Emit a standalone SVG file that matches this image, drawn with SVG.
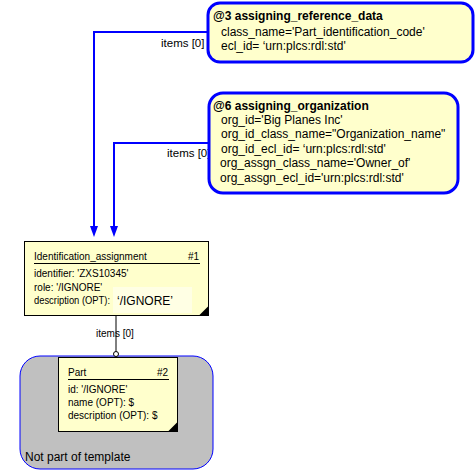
<svg xmlns="http://www.w3.org/2000/svg" width="475" height="471" viewBox="0 0 475 471">
<style>
.t{font-family:"Liberation Sans",Arial,sans-serif;fill:#000}
.tb{font-family:"Liberation Sans",Arial,sans-serif;font-weight:bold;font-size:12px;fill:#000}
.tl{font-size:12px}
.ts{font-size:10px}
.tpl{fill:#FFFFCC;stroke:#0000FF;stroke-width:3}
.ent{fill:#FFFFCC;stroke:#000;stroke-width:1}
.con{fill:none;stroke:#0000FF;stroke-width:2}
.arr{fill:#0000FF}
</style>
<rect width="475" height="471" fill="#fff"/>

<g id="group-not-part">
<rect x="20" y="356" width="193" height="113" rx="20" ry="20" fill="#C0C0C0" stroke="#0000FF" stroke-width="1"/>
<text class="t tl" x="25" y="461">Not part of template</text>
</g>

<g id="connectors">
<polyline class="con" points="208,32 94,32 94,226"/>
<path class="arr" d="M90,226 L98,226 L94,237 Z"/>
<polyline class="con" points="210,143 114,143 114,226"/>
<path class="arr" d="M110,226 L118,226 L114,237 Z"/>
<line x1="116" y1="316" x2="116" y2="352" stroke="#000" stroke-width="1"/>
<circle cx="116" cy="354" r="2.5" fill="#fff" stroke="#000" stroke-width="1"/>
<text class="t" font-size="11.5" x="161" y="47">items [0]</text>
<text class="t" font-size="11.5" x="167" y="157">items [0]</text>
<text class="t ts" x="96" y="337">items [0]</text>
</g>

<g id="node-3">
<rect class="tpl" x="208" y="3" width="265" height="59" rx="12" ry="12"/>
<text class="tb" x="213" y="20">@3 assigning_reference_data</text>
<text class="t tl" x="221" y="36">class_name='Part_identification_code'</text>
<text class="t tl" x="221" y="50">ecl_id= ‘urn:plcs:rdl:std'</text>
</g>

<g id="node-6">
<rect class="tpl" x="209" y="93" width="249" height="100" rx="14" ry="14"/>
<text class="tb" x="213" y="110">@6 assigning_organization</text>
<text class="t tl" x="221" y="124">org_id='Big Planes Inc'</text>
<text class="t tl" x="221" y="138">org_id_class_name="Organization_name"</text>
<text class="t tl" x="221" y="153">org_id_ecl_id= ‘urn:plcs:rdl:std'</text>
<text class="t tl" x="220" y="167">org_assgn_class_name='Owner_of'</text>
<text class="t tl" x="220" y="182">org_assgn_ecl_id='urn:plcs:rdl:std'</text>
</g>

<g id="node-1">
<rect class="ent" x="24.5" y="241.5" width="184" height="74"/>
<rect x="113" y="287" width="79" height="26" fill="#FFFFE4"/>
<path d="M199,315.5 L208.5,315.5 L208.5,306 Z" fill="#000"/>
<text class="t ts" x="34" y="260">Identification_assignment</text>
<text class="t ts" x="188" y="260">#1</text>
<line x1="34" y1="263.5" x2="200" y2="263.5" stroke="#000" stroke-width="1"/>
<text class="t ts" x="34" y="277">identifier: 'ZXS10345'</text>
<text class="t ts" x="34" y="291">role: '/IGNORE'</text>
<text class="t ts" x="34" y="304" textLength="76" lengthAdjust="spacingAndGlyphs">description (OPT):</text>
<text class="t tl" x="117" y="305">‘/IGNORE’</text>
</g>

<g id="node-2">
<rect class="ent" x="58.5" y="357.5" width="119" height="74"/>
<path d="M168,431.5 L177.5,431.5 L177.5,422 Z" fill="#000"/>
<text class="t ts" x="68" y="376">Part</text>
<text class="t ts" x="157" y="376">#2</text>
<line x1="68" y1="379.5" x2="169" y2="379.5" stroke="#000" stroke-width="1"/>
<text class="t ts" x="68" y="393">id: '/IGNORE'</text>
<text class="t ts" x="68" y="406">name (OPT): $</text>
<text class="t ts" x="68" y="419">description (OPT): $</text>
</g>
</svg>
